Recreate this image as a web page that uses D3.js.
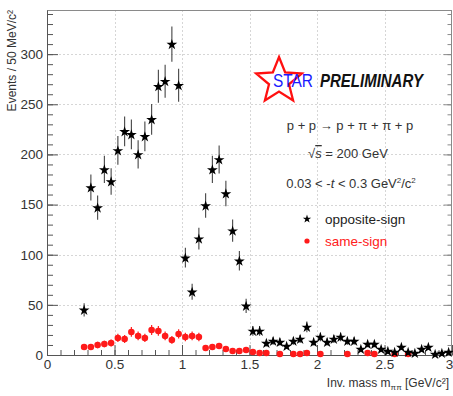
<!DOCTYPE html>
<html>
<head>
<meta charset="utf-8">
<script src="https://cdn.jsdelivr.net/npm/d3@7"></script>
<style>
  html, body { margin: 0; padding: 0; background: #fff; }
  svg { display: block; font-family: "Liberation Sans", Arial, Helvetica, sans-serif; }
</style>
</head>
<body>
<svg id="chart" width="453" height="396"></svg>
<script>
// Bin centres of the invariant-mass histogram (50 MeV/c^2 bins), GeV/c^2
const massBins = [
  0.275, 0.325, 0.375, 0.425, 0.475, 0.525, 0.575, 0.625, 0.675, 0.725,
  0.775, 0.825, 0.875, 0.925, 0.975, 1.025, 1.075, 1.125, 1.175, 1.225,
  1.275, 1.325, 1.375, 1.425, 1.475, 1.525, 1.575, 1.625, 1.675, 1.725,
  1.775, 1.825, 1.875, 1.925, 1.975, 2.025, 2.075, 2.125, 2.175, 2.225,
  2.275, 2.325, 2.375, 2.425, 2.475, 2.525, 2.575, 2.625, 2.675, 2.725,
  2.775, 2.825, 2.875, 2.925, 2.975
];

// Opposite-sign pion pairs, events per bin
const oppositeSign = [
   45, 167, 147, 185, 173, 204, 223, 220, 200, 218,
  235, 268, 273, 310, 269,  97,  63, 116, 149, 185,
  195, 161, 124,  94,  49,  24,  24,  12,  14,  13,
    9,  14,  16,  28,  13,  18,  13,  16,  18,  14,
   14,   6,  11,  11,   6,   4,   3,   8,   3,   2,
    6,   8,   1,   2,   3
];

// Same-sign pion pairs, events per bin (null = empty bin)
const sameSign = [
    8,   8,  10,  11,  12,  17,  16,  23,  19,  17,
   25,  24,  19,  15,  21,  18,  19,  18,   7,   8,
    9,   6,   4,   4,   5,   3,   2,   2, null,   1,
 null,   1,   1,   2, null,   1, null, null, null,   1,
 null, null,   2,   1, null, null,   1, null,   1, null,
 null, null, null, null, null
];

// Axis ticks and labels
const xMajorTicks = [0, 0.5, 1, 1.5, 2, 2.5, 3];
const xTickLabels = ["0", "0.5", "1", "1.5", "2", "2.5", "3"];
const yMajorTicks = [0, 50, 100, 150, 200, 250, 300];
const yTickLabels = ["0", "50", "100", "150", "200", "250", "300"];

const xDomain = [0, 3];
const yDomain = [0, 344];

const svg = d3.select("#chart");
const margin = { left: 47, right: 1, top: 10, bottom: 41 };
const W = 453, H = 396;

const x = d3.scaleLinear().domain(xDomain).range([margin.left, W - margin.right]);
const y = d3.scaleLinear().domain(yDomain).range([H - margin.bottom, margin.top]);

const x0 = x.range()[0], x1 = x.range()[1];
const y0 = y.range()[0], y1 = y.range()[1];

// Dotted grid at major ticks
const grid = svg.append("g").attr("stroke", "#d6d6d6").attr("stroke-width", 1)
  .attr("stroke-dasharray", "2,2");
xMajorTicks.slice(1, -1).forEach(t => {
  grid.append("line").attr("x1", Math.round(x(t)) + 0.5).attr("x2", Math.round(x(t)) + 0.5)
    .attr("y1", y1).attr("y2", y0);
});
yMajorTicks.slice(1).forEach(t => {
  grid.append("line").attr("x1", x0).attr("x2", x1)
    .attr("y1", Math.round(y(t)) + 0.5).attr("y2", Math.round(y(t)) + 0.5);
});

// Frame
svg.append("rect")
  .attr("x", x0 + 0.5).attr("y", y1 + 0.5)
  .attr("width", x1 - x0 - 1).attr("height", y0 - y1)
  .attr("fill", "none").attr("stroke", "#8a8a8a").attr("stroke-width", 1);

// Inward-pointing ticks using d3 axes
const xMinor = d3.range(0, 3.0001, 0.1);
const yMinor = d3.range(0, 341, 10);

const axisColor = "#555";

function styleAxis(g) {
  g.select(".domain").attr("stroke", axisColor);
  g.selectAll(".tick line").attr("stroke", axisColor);
}

// bottom axis
svg.append("g").attr("transform", `translate(0,${y0})`)
  .call(d3.axisTop(x).tickValues(xMinor).tickSize(5).tickFormat(""))
  .call(g => { g.select(".domain").remove(); g.selectAll(".tick line").attr("stroke", axisColor); });
const xAxisG = svg.append("g").attr("transform", `translate(0,${y0})`)
  .call(d3.axisBottom(x).tickValues(xMajorTicks).tickSizeInner(-10).tickSizeOuter(0).tickPadding(4)
    .tickFormat((d, i) => xTickLabels[i]))
  .call(styleAxis);
xAxisG.selectAll(".tick text")
  .attr("font-size", 13.5).attr("fill", "#333")
  .attr("font-family", "Liberation Sans, Arial, sans-serif")
  .attr("dx", (d, i) => i === xMajorTicks.length - 1 ? -3 : 0);

// left axis
svg.append("g").attr("transform", `translate(${x0},0)`)
  .call(d3.axisRight(y).tickValues(yMinor).tickSize(6).tickFormat(""))
  .call(g => { g.select(".domain").remove(); g.selectAll(".tick line").attr("stroke", axisColor); });
const yAxisG = svg.append("g").attr("transform", `translate(${x0},0)`)
  .call(d3.axisLeft(y).tickValues(yMajorTicks).tickSizeInner(-11).tickSizeOuter(0).tickPadding(4)
    .tickFormat((d, i) => yTickLabels[i]))
  .call(styleAxis);
yAxisG.selectAll(".tick text")
  .attr("font-size", 13.5).attr("fill", "#333")
  .attr("font-family", "Liberation Sans, Arial, sans-serif");

// right axis ticks (mirror)
svg.append("g").attr("transform", `translate(${x1 - 0.5},0)`)
  .call(d3.axisLeft(y).tickValues(yMinor).tickSize(4).tickFormat(""))
  .call(g => { g.select(".domain").remove(); g.selectAll(".tick line").attr("stroke", "#8a8a8a"); });
svg.append("g").attr("transform", `translate(${x1 - 0.5},0)`)
  .call(d3.axisLeft(y).tickValues(yMajorTicks).tickSize(8).tickFormat(""))
  .call(g => { g.select(".domain").remove(); g.selectAll(".tick line").attr("stroke", "#8a8a8a"); });

// Axis titles
svg.append("text")
  .attr("transform", `translate(16,${y1}) rotate(-90)`)
  .attr("text-anchor", "end")
  .attr("font-size", 12).attr("fill", "#333")
  .text("Events / 50 MeV/c²");

const xt = svg.append("text")
  .attr("x", 449).attr("y", 387)
  .attr("text-anchor", "end")
  .attr("font-size", 12).attr("fill", "#333");
xt.append("tspan").text("Inv. mass  m");
xt.append("tspan").attr("font-size", 8).attr("dy", 3).text("ππ");
xt.append("tspan").attr("dy", -3).text(" [GeV/c²]");

// Data
const oppPts = massBins.map((m, i) => ({ m, v: oppositeSign[i] })).filter(d => d.v != null);
const samePts = massBins.map((m, i) => ({ m, v: sameSign[i] })).filter(d => d.v != null);

// Poisson uncertainty on each bin count
const err = v => Math.sqrt(v);

const plot = svg.append("g");

// same-sign error bars and markers
plot.append("g").selectAll("line").data(samePts).join("line")
  .attr("x1", d => x(d.m)).attr("x2", d => x(d.m))
  .attr("y1", d => y(d.v + err(d.v))).attr("y2", d => y(Math.max(0, d.v - err(d.v))))
  .attr("stroke", "#ff2020").attr("stroke-width", 1.2);
plot.append("g").selectAll("circle").data(samePts).join("circle")
  .attr("cx", d => x(d.m)).attr("cy", d => y(d.v)).attr("r", 3.3)
  .attr("fill", "#ff1a1a");

// opposite-sign error bars and markers
plot.append("g").selectAll("line").data(oppPts).join("line")
  .attr("x1", d => x(d.m)).attr("x2", d => x(d.m))
  .attr("y1", d => y(d.v + err(d.v))).attr("y2", d => y(Math.max(0, d.v - err(d.v))))
  .attr("stroke", "#444").attr("stroke-width", 1.1);
const star = d3.symbol().type(d3.symbolStar).size(36);
plot.append("g").selectAll("path").data(oppPts).join("path")
  .attr("transform", d => `translate(${x(d.m)},${y(d.v) + 0.5})`)
  .attr("d", star)
  .attr("fill", "#000");

// STAR logo
function starPoints(cx, cy, R, r) {
  const pts = [];
  for (let k = 0; k < 10; k++) {
    const a = -Math.PI / 2 + k * Math.PI / 5;
    const rr = k % 2 === 0 ? R : r;
    pts.push([cx + rr * Math.cos(a), cy + rr * Math.sin(a)]);
  }
  return pts;
}
svg.append("polygon")
  .attr("points", starPoints(279, 81, 24, 10.5).map(p => p.join(",")).join(" "))
  .attr("fill", "none").attr("stroke", "#ff1010").attr("stroke-width", 2.3)
  .attr("stroke-linejoin", "miter");
svg.append("text")
  .attr("x", 273).attr("y", 87)
  .attr("font-size", 18).attr("fill", "#1a1aff")
  .attr("textLength", 40).attr("lengthAdjust", "spacingAndGlyphs")
  .text("STAR");
svg.append("text")
  .attr("x", 320).attr("y", 87)
  .attr("font-size", 18).attr("font-weight", "bold").attr("font-style", "italic")
  .attr("fill", "#111")
  .attr("textLength", 103).attr("lengthAdjust", "spacingAndGlyphs")
  .text("PRELIMINARY");

// Physics annotations
const ann = svg.append("g").attr("font-size", 13).attr("fill", "#333").attr("text-anchor", "middle");
ann.append("text").attr("x", 350).attr("y", 130).text("p + p → p + π + π + p");
const rs = ann.append("text").attr("x", 348).attr("y", 158);
rs.append("tspan").text("√");
rs.append("tspan").attr("font-style", "italic").attr("text-decoration", "overline").text("s");
rs.append("tspan").text(" = 200 GeV");
const tt = ann.append("text").attr("x", 351).attr("y", 188);
tt.append("tspan").text("0.03 < -");
tt.append("tspan").attr("font-style", "italic").text("t");
tt.append("tspan").text(" < 0.3 GeV");
tt.append("tspan").attr("font-size", 8).attr("dy", -5).text("2");
tt.append("tspan").attr("dy", 5).text("/c");
tt.append("tspan").attr("font-size", 8).attr("dy", -5).text("2");

// Legend
const legend = [
  { label: "opposite-sign", color: "#222", type: "star" },
  { label: "same-sign", color: "#ff2020", type: "dot" }
];
legend.forEach((d, i) => {
  const ly = 219 + i * 22;
  if (d.type === "star") {
    svg.append("path").attr("transform", `translate(307,${ly})`)
      .attr("d", d3.symbol().type(d3.symbolStar).size(22)).attr("fill", "#000");
  } else {
    svg.append("circle").attr("cx", 307).attr("cy", ly).attr("r", 2.6).attr("fill", "#ff1a1a");
  }
  svg.append("text").attr("x", 325).attr("y", ly + 5)
    .attr("font-size", 13.5).attr("fill", d.color).text(d.label);
});
</script>
</body>
</html>
